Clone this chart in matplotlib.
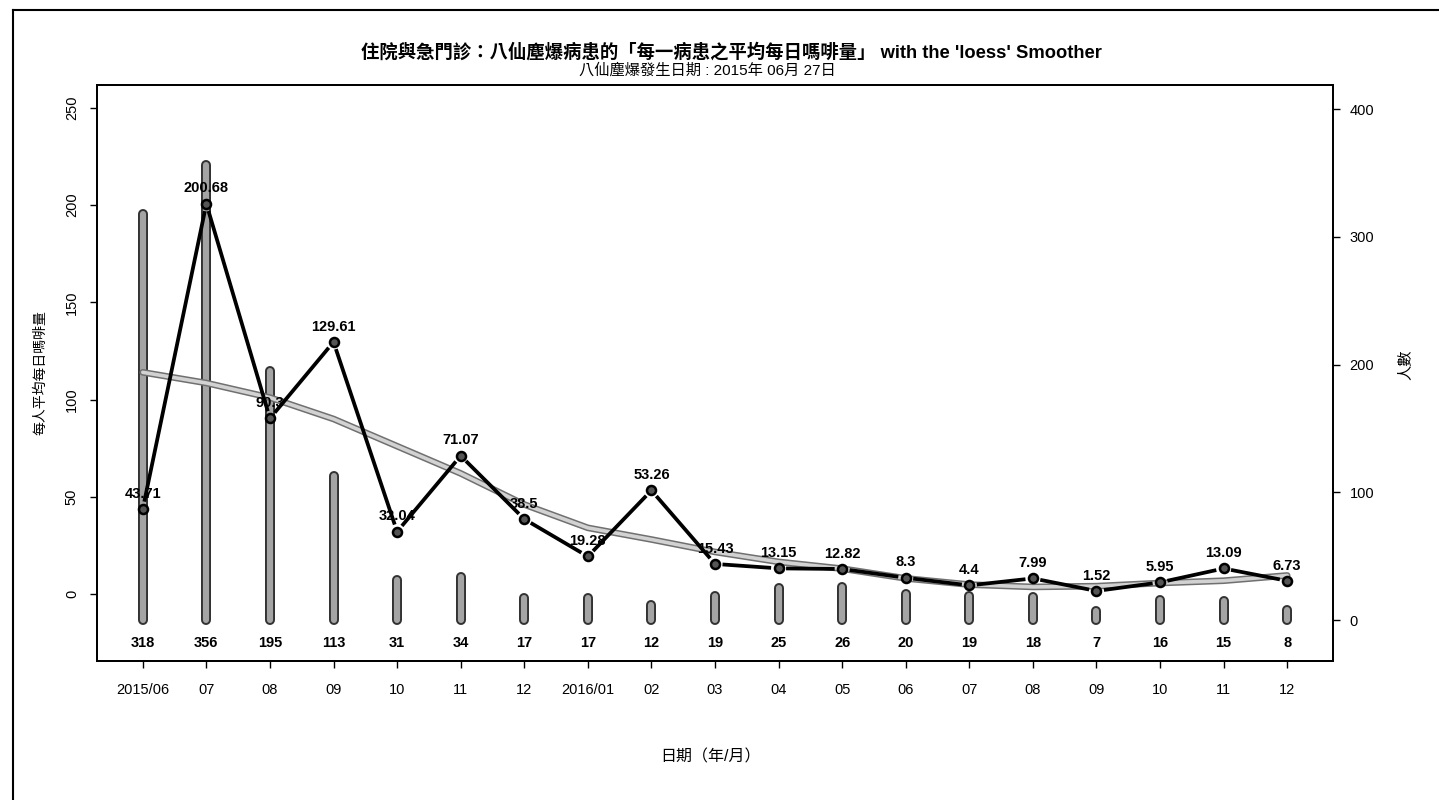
import matplotlib
matplotlib.use("Agg")
import matplotlib.pyplot as plt
import numpy as np
from matplotlib.lines import Line2D

plt.rcParams["font.family"] = ["Liberation Sans", "Noto Sans CJK TC", "DejaVu Sans"]

# Monthly data
months = ["2015/06", "07", "08", "09", "10", "11", "12", "2016/01", "02", "03",
          "04", "05", "06", "07", "08", "09", "10", "11", "12"]
patients = [318, 356, 195, 113, 31, 34, 17, 17, 12, 19, 25, 26, 20, 19, 18, 7, 16, 15, 8]
mean_dose = [43.71, 200.68, 90.3, 129.61, 32.04, 71.07, 38.5, 19.28, 53.26, 15.43,
             13.15, 12.82, 8.3, 4.4, 7.99, 1.52, 5.95, 13.09, 6.73]
loess_fit = [114, 108.5, 101, 90, 76, 62, 46, 34, 28, 21.6, 16.5, 13, 8, 4.8, 3.6,
             4, 5.6, 6.8, 9.5]
left_ticks = [0, 50, 100, 150, 200, 250]
right_ticks = [0, 100, 200, 300, 400]

title = "住院與急門診：八仙塵爆病患的「每一病患之平均每日嗎啡量」 with the 'loess' Smoother"
subtitle = "八仙塵爆發生日期 : 2015年 06月 27日"
xlabel = "日期（年/月）"
ylabel_left = "每人平均每日嗎啡量"
ylabel_right = "人數"

W, H, DPI = 1439, 800, 100
fig = plt.figure(figsize=(W / DPI, H / DPI), dpi=DPI)
L, R, T, B = 97, 1333, 85, 661
ax = fig.add_axes([L / W, 1 - B / H, (R - L) / W, (B - T) / H])
ax2 = ax.twinx()
ax.set_zorder(ax2.get_zorder() + 1)
ax.patch.set_visible(False)

x = np.arange(len(months))
ax.set_xlim(-0.72, len(months) - 1 + 0.72)
ax.set_ylim(-34.5, 261.8)
ax2.set_ylim(-32.1, 419)

# patient counts as thick rounded bars on the right axis
for xi, n in zip(x, patients):
    ax2.plot([xi, xi], [0, n], color="#333333", lw=7.2, solid_capstyle="round", zorder=1)
    ax2.plot([xi, xi], [0, n], color="#a4a4a4", lw=4.4, solid_capstyle="round", zorder=2)

# loess smoother
ax.plot(x, loess_fit, color="#707070", lw=4.8, solid_capstyle="round", zorder=2)
ax.plot(x, loess_fit, color="#d2d2d2", lw=2.6, solid_capstyle="round", zorder=3)

# value labels
for xi, v in zip(x, mean_dose):
    ax.annotate(str(v), (xi, v), xytext=(0, 6), textcoords="offset points",
                ha="center", va="bottom", fontsize=10.5, fontweight="bold", zorder=3.5)

# mean dose line with gaps around points
pts = ax.transData.transform(np.column_stack([x, mean_dose]))
gap = 7.5
inv = ax.transData.inverted()
for p0, p1 in zip(pts[:-1], pts[1:]):
    d = p1 - p0
    ln = np.hypot(*d)
    if ln <= 2 * gap:
        continue
    u = d / ln
    a = inv.transform(p0 + u * gap)
    b = inv.transform(p1 - u * gap)
    ax.plot([a[0], b[0]], [a[1], b[1]], color="black", lw=2.7,
            solid_capstyle="butt", zorder=4)
ax.plot(x, mean_dose, "o", ms=6.5, mfc="#555555", mec="black", mew=1.8, zorder=5)

# patient count labels
for xi, n in zip(x, patients):
    ax.text(xi, -25, str(n), ha="center", va="center", fontsize=10.5, fontweight="bold")

# axes styling
for a in (ax, ax2):
    for s in a.spines.values():
        s.set_linewidth(1.3)
        s.set_color("black")
ax.set_xticks(x, months)
ax.tick_params(axis="x", length=5, width=1, pad=11, labelsize=10.5)
ax.set_yticks(left_ticks)
ax.set_yticklabels([str(t) for t in left_ticks], rotation=90, va="center")
ax.tick_params(axis="y", length=5, width=1, pad=8, labelsize=10.5)
ax2.set_yticks(right_ticks)
ax2.tick_params(axis="y", length=5, width=1, pad=7, labelsize=10.5)

fig.text(40 / W, 1 - 373 / H, ylabel_left, rotation=90, ha="center", va="center", fontsize=10)
fig.text(1405 / W, 1 - 365 / H, ylabel_right, rotation=90, ha="center", va="center", fontsize=11)
fig.text(710 / W, 1 - 757 / H, xlabel, ha="center", va="center", fontsize=11.5)
fig.text(731 / W, 1 - 52 / H, title, ha="center", va="center", fontsize=13.2, fontweight="bold")
fig.text(707 / W, 1 - 70 / H, subtitle, ha="center", va="center", fontsize=11)

# outer frame
fig.add_artist(Line2D([13 / W, 1], [1 - 10 / H, 1 - 10 / H], color="black", lw=1.5))
fig.add_artist(Line2D([13 / W, 13 / W], [0, 1 - 10 / H], color="black", lw=1.5))

fig.savefig("out.png", dpi=DPI)
